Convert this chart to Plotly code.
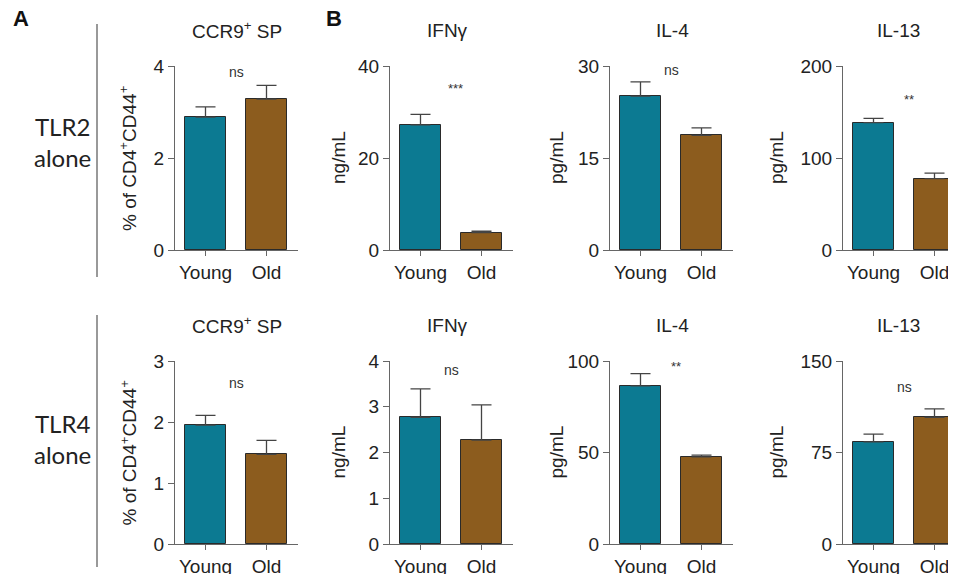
import plotly.graph_objects as go

groups = ["Young", "Old"]

# Row 1: TLR2 alone
ccr9_tlr2 = [2.89, 3.28]
ccr9_tlr2_err = [0.22, 0.30]
ifng_tlr2 = [27.2, 3.8]
ifng_tlr2_err = [2.3, 0.3]
il4_tlr2 = [25.1, 18.7]
il4_tlr2_err = [2.3, 1.2]
il13_tlr2 = [138.5, 77.5]
il13_tlr2_err = [4.5, 6.0]

# Row 2: TLR4 alone
ccr9_tlr4 = [1.95, 1.47]
ccr9_tlr4_err = [0.16, 0.23]
ifng_tlr4 = [2.77, 2.27]
ifng_tlr4_err = [0.62, 0.77]
il4_tlr4 = [86.4, 47.6]
il4_tlr4_err = [6.7, 1.0]
il13_tlr4 = [83.7, 103.9]
il13_tlr4_err = [6.3, 6.8]

titles = ["CCR9<sup>+</sup> SP", "IFNγ", "IL-4", "IL-13"]
ytitles = ["% of CD4<sup>+</sup>CD44<sup>+</sup>", "ng/mL", "pg/mL", "pg/mL"]
row1_ticks = [[0, 2, 4], [0, 20, 40], [0, 15, 30], [0, 100, 200]]
row2_ticks = [[0, 1, 2, 3], [0, 1, 2, 3, 4], [0, 50, 100], [0, 75, 150]]
row1_sig = ["ns", "***", "ns", "**"]
row2_sig = ["ns", "ns", "**", "ns"]

PAGE_W, PAGE_H = 956, 574
OFF = 8  # default body margin of the page
W, H = PAGE_W - OFF, PAGE_H - OFF


def px(x):
    return (x - OFF) / W


def py(y):
    return 1 - (y - OFF) / H


TEAL = "#0c7a92"
BROWN = "#8c5c1e"
AX = "#666666"
FONT = "Arial, Liberation Sans, sans-serif"
TXT = "#222222"

col_px = [(175, 298), (390, 513), (610, 733), (843, 956)]
row_px = [(66, 250), (361, 544)]
title_x = [237, 447, 672, 898]
ytitle_x = [128, 338, 556, 776]

rows = [
    [(ccr9_tlr2, ccr9_tlr2_err), (ifng_tlr2, ifng_tlr2_err), (il4_tlr2, il4_tlr2_err), (il13_tlr2, il13_tlr2_err)],
    [(ccr9_tlr4, ccr9_tlr4_err), (ifng_tlr4, ifng_tlr4_err), (il4_tlr4, il4_tlr4_err), (il13_tlr4, il13_tlr4_err)],
]
ticks = [row1_ticks, row2_ticks]
sigs = [row1_sig, row2_sig]
# significance label positions (fraction of axis max)
sig_frac = [[0.97, 0.88, 0.98, 0.82], [0.88, 0.95, 0.97, 0.86]]

fig = go.Figure()
layout = {}
annotations = []
idx = 0
for r in range(2):
    y0, y1 = row_px[r]
    for c in range(4):
        idx += 1
        xa = "x" if idx == 1 else f"x{idx}"
        ya = "y" if idx == 1 else f"y{idx}"
        vals, errs = rows[r][c]
        fig.add_trace(go.Bar(
            x=[0, 1], y=vals, xaxis=xa, yaxis=ya, width=0.67,
            marker=dict(color=[TEAL, BROWN], line=dict(color="#2a2a2a", width=1)),
            error_y=dict(type="data", symmetric=False, array=errs, arrayminus=[0, 0],
                         color="#444444", thickness=1.3, width=10),
            showlegend=False, hoverinfo="skip",
        ))
        xl, xr = col_px[c]
        tv = ticks[r][c]
        layout["xaxis" if idx == 1 else f"xaxis{idx}"] = dict(
            domain=[px(xl), min(px(xr), 1.0)], range=[-0.5, -0.5 + (min(xr, PAGE_W) - xl) / 61.0],
            anchor=ya, automargin=False,
            tickmode="array", tickvals=[0, 1], ticktext=groups,
            showline=True, linecolor=AX, linewidth=1.2, ticks="outside", ticklen=5,
            tickcolor=AX, showgrid=False, zeroline=False,
            tickfont=dict(size=19, color=TXT, family=FONT), fixedrange=True,
        )
        layout["yaxis" if idx == 1 else f"yaxis{idx}"] = dict(
            domain=[py(y1), py(y0)], range=[0, tv[-1]], anchor=xa, automargin=False,
            tickmode="array", tickvals=tv, ticktext=[str(t) for t in tv],
            showline=True, linecolor=AX, linewidth=1.2, ticks="outside", ticklen=6,
            tickcolor=AX, showgrid=False, zeroline=False,
            tickfont=dict(size=19, color=TXT, family=FONT), fixedrange=True,
        )
        # panel title
        annotations.append(dict(
            text=titles[c], x=px(title_x[c]), y=py(y0 - 36), xref="paper", yref="paper",
            showarrow=False, font=dict(size=19, color=TXT, family=FONT),
            xanchor="center", yanchor="middle",
        ))
        # significance
        s = sigs[r][c]
        annotations.append(dict(
            text=s, x=0.5 + (0.08 if s.startswith("*") else 0), y=tv[-1] * sig_frac[r][c],
            xref=xa, yref=ya, showarrow=False,
            font=dict(size=14 if s == "ns" else 13, color="#333333", family=FONT),
            xanchor="center", yanchor="middle",
        ))
        # y-axis title
        annotations.append(dict(
            text=ytitles[c], x=px(ytitle_x[c]), y=py((y0 + y1) / 2), xref="paper", yref="paper",
            showarrow=False, textangle=-90, font=dict(size=19, color=TXT, family=FONT),
            xanchor="center", yanchor="middle",
        ))

ROWFONT = dict(size=24, color=TXT, family="Lato, Noto Sans, sans-serif")
annotations += [
    dict(text="TLR2<br>alone", x=px(62), y=py(142), xref="paper", yref="paper", showarrow=False,
         font=ROWFONT, align="center", xanchor="center", yanchor="middle"),
    dict(text="TLR4<br>alone", x=px(62), y=py(439), xref="paper", yref="paper", showarrow=False,
         font=ROWFONT, align="center", xanchor="center", yanchor="middle"),
    dict(text="<b>A</b>", x=px(21), y=py(18), xref="paper", yref="paper", showarrow=False,
         font=dict(size=22, color="#111111", family=FONT), xanchor="center", yanchor="middle"),
    dict(text="<b>B</b>", x=px(334), y=py(18), xref="paper", yref="paper", showarrow=False,
         font=dict(size=22, color="#111111", family=FONT), xanchor="center", yanchor="middle"),
]

shapes = [
    dict(type="line", xref="paper", yref="paper", x0=px(97), x1=px(97),
         y0=py(277), y1=py(24), line=dict(color="#555555", width=1.2)),
    dict(type="line", xref="paper", yref="paper", x0=px(97), x1=px(97),
         y0=py(567), y1=py(315), line=dict(color="#555555", width=1.2)),
]

fig.update_layout(
    width=W, height=H, margin=dict(l=0, r=0, t=0, b=0, autoexpand=False),
    paper_bgcolor="white", plot_bgcolor="white",
    annotations=annotations, shapes=shapes, bargap=0, **layout,
)
fig.write_html("out.html")
